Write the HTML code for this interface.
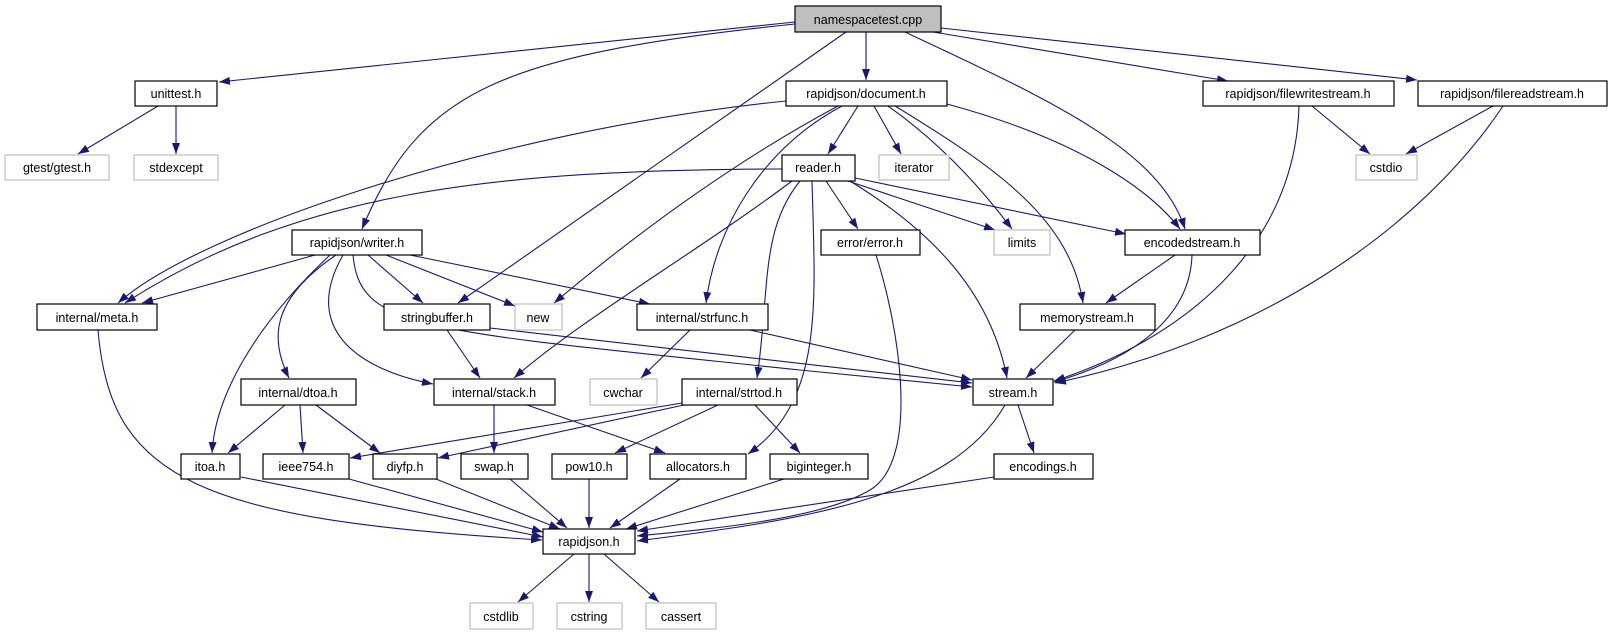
<!DOCTYPE html>
<html><head><meta charset="utf-8"><style>
html,body{margin:0;padding:0;background:#fff;}
svg{display:block;}
text{font-family:"Liberation Sans",sans-serif;font-size:12.5px;fill:#000;text-anchor:middle;}
.n{fill:#fff;stroke:#000;stroke-width:1.2;}
.g{fill:#fff;stroke:#bfbfbf;stroke-width:1.2;}
.e{fill:none;stroke:#191970;stroke-width:1.1;marker-end:url(#a);}
</style></head><body>
<svg width="1613" height="635" viewBox="0 0 1613 635" xmlns="http://www.w3.org/2000/svg">
<defs><marker id="a" markerUnits="userSpaceOnUse" markerWidth="11" markerHeight="8" refX="11" refY="4" orient="auto"><path d="M0,0 L11,4 L0,8 z" fill="#191970"/></marker></defs>
<g>
<path class="e" d="M795,22 L219,82"/>
<path class="e" d="M795,24 C500,55 420,90 362,229"/>
<path class="e" d="M846,32 L458,303"/>
<path class="e" d="M866,32 L866,80"/>
<path class="e" d="M905,32 C1050,100 1160,150 1185,229"/>
<path class="e" d="M933,32 L1228,81"/>
<path class="e" d="M941,28 L1417,80"/>
<path class="e" d="M158,106 L78,154"/>
<path class="e" d="M176,106 L176,154"/>
<path class="e" d="M786,101 C500,130 200,230 118,303"/>
<path class="e" d="M838,106 Q700,180 554,303"/>
<path class="e" d="M842,106 C760,150 715,230 706,303"/>
<path class="e" d="M858,106 L828,154"/>
<path class="e" d="M874,106 L901,154"/>
<path class="e" d="M888,106 C950,150 990,200 1012,229"/>
<path class="e" d="M895,106 C1000,170 1070,220 1083,303"/>
<path class="e" d="M947,104 C1080,140 1150,190 1180,229"/>
<path class="e" d="M782,169 C500,170 300,190 125,303"/>
<path class="e" d="M792,181 C700,250 580,320 514,378"/>
<path class="e" d="M800,181 C760,230 770,290 757,378"/>
<path class="e" d="M812,181 C815,300 825,400 748,454"/>
<path class="e" d="M826,181 L858,229"/>
<path class="e" d="M848,181 L995,230"/>
<path class="e" d="M855,178 L1126,234"/>
<path class="e" d="M850,181 C930,230 990,290 1007,378"/>
<path class="e" d="M315,255 L142,303"/>
<path class="e" d="M330,255 C250,330 215,400 212,453"/>
<path class="e" d="M336,255 C270,300 270,340 289,378"/>
<path class="e" d="M343,255 C300,330 360,370 433,384"/>
<path class="e" d="M353,255 C360,330 420,330 800,370 L972,387"/>
<path class="e" d="M368,255 L423,303"/>
<path class="e" d="M386,255 L515,306"/>
<path class="e" d="M410,255 L650,304"/>
<path class="e" d="M447,330 L480,378"/>
<path class="e" d="M490,328 L972,383"/>
<path class="e" d="M690,330 L641,378"/>
<path class="e" d="M750,330 L972,380"/>
<path class="e" d="M1175,255 L1106,303"/>
<path class="e" d="M1192,255 C1190,320 1130,360 1054,382"/>
<path class="e" d="M1075,330 L1026,378"/>
<path class="e" d="M1312,106 L1370,154"/>
<path class="e" d="M1299,106 C1295,250 1180,340 1054,381"/>
<path class="e" d="M1493,106 L1406,154"/>
<path class="e" d="M1503,106 C1420,230 1260,340 1055,383"/>
<path class="e" d="M285,405 L228,453"/>
<path class="e" d="M300,405 L303,453"/>
<path class="e" d="M316,405 L380,453"/>
<path class="e" d="M494,405 L494,453"/>
<path class="e" d="M527,405 L665,453"/>
<path class="e" d="M682,403 L350,458"/>
<path class="e" d="M684,405 L438,458"/>
<path class="e" d="M718,405 L615,453"/>
<path class="e" d="M755,405 L800,453"/>
<path class="e" d="M1018,405 L1034,453"/>
<path class="e" d="M1005,405 C950,500 800,520 637,541"/>
<path class="e" d="M876,255 C900,330 920,460 870,490 C820,520 700,530 637,536"/>
<path class="e" d="M994,477 L637,531"/>
<path class="e" d="M784,479 L626,529"/>
<path class="e" d="M680,479 L610,528"/>
<path class="e" d="M589,479 L589,528"/>
<path class="e" d="M510,479 L567,528"/>
<path class="e" d="M436,479 L560,529"/>
<path class="e" d="M349,479 L543,532"/>
<path class="e" d="M241,477 L543,537"/>
<path class="e" d="M98,330 C110,480 200,520 542,540"/>
<path class="e" d="M574,554 L518,602"/>
<path class="e" d="M589,554 L589,602"/>
<path class="e" d="M604,554 L659,602"/>
</g>
<g>
<rect x="795" y="6" width="146" height="26" fill="#bfbfbf" stroke="#000" stroke-width="1.2"/><text x="868" y="24">namespacetest.cpp</text>
<rect class="n" x="135" y="81" width="82" height="25"/><text x="176" y="98">unittest.h</text>
<rect class="g" x="5" y="155" width="104" height="25"/><text x="57" y="172">gtest/gtest.h</text>
<rect class="g" x="134" y="155" width="84" height="25"/><text x="176" y="172">stdexcept</text>
<rect class="n" x="786" y="81" width="161" height="25"/><text x="866" y="98">rapidjson/document.h</text>
<rect class="n" x="1203" y="81" width="191" height="25"/><text x="1298" y="98">rapidjson/filewritestream.h</text>
<rect class="n" x="1418" y="81" width="189" height="25"/><text x="1512" y="98">rapidjson/filereadstream.h</text>
<rect class="n" x="782" y="155" width="73" height="26"/><text x="818" y="172">reader.h</text>
<rect class="g" x="879" y="155" width="70" height="25"/><text x="914" y="172">iterator</text>
<rect class="g" x="1356" y="155" width="61" height="25"/><text x="1386" y="172">cstdio</text>
<rect class="n" x="292" y="230" width="130" height="25"/><text x="357" y="247">rapidjson/writer.h</text>
<rect class="n" x="821" y="230" width="99" height="25"/><text x="870" y="247">error/error.h</text>
<rect class="g" x="994" y="230" width="56" height="25"/><text x="1022" y="247">limits</text>
<rect class="n" x="1125" y="230" width="135" height="25"/><text x="1192" y="247">encodedstream.h</text>
<rect class="n" x="37" y="304" width="120" height="26"/><text x="97" y="322">internal/meta.h</text>
<rect class="n" x="384" y="304" width="106" height="26"/><text x="437" y="322">stringbuffer.h</text>
<rect class="g" x="515" y="304" width="47" height="26"/><text x="538" y="322">new</text>
<rect class="n" x="637" y="304" width="131" height="26"/><text x="702" y="322">internal/strfunc.h</text>
<rect class="n" x="1020" y="304" width="135" height="26"/><text x="1087" y="322">memorystream.h</text>
<rect class="n" x="241" y="379" width="115" height="26"/><text x="298" y="397">internal/dtoa.h</text>
<rect class="n" x="434" y="379" width="121" height="26"/><text x="494" y="397">internal/stack.h</text>
<rect class="g" x="590" y="379" width="67" height="26"/><text x="623" y="397">cwchar</text>
<rect class="n" x="682" y="379" width="115" height="26"/><text x="739" y="397">internal/strtod.h</text>
<rect class="n" x="973" y="379" width="80" height="26"/><text x="1013" y="397">stream.h</text>
<rect class="n" x="181" y="454" width="59" height="25"/><text x="210" y="471">itoa.h</text>
<rect class="n" x="263" y="454" width="86" height="25"/><text x="306" y="471">ieee754.h</text>
<rect class="n" x="373" y="454" width="64" height="25"/><text x="405" y="471">diyfp.h</text>
<rect class="n" x="461" y="454" width="67" height="25"/><text x="494" y="471">swap.h</text>
<rect class="n" x="552" y="454" width="75" height="25"/><text x="589" y="471">pow10.h</text>
<rect class="n" x="650" y="454" width="96" height="25"/><text x="698" y="471">allocators.h</text>
<rect class="n" x="770" y="454" width="98" height="25"/><text x="819" y="471">biginteger.h</text>
<rect class="n" x="994" y="454" width="99" height="25"/><text x="1043" y="471">encodings.h</text>
<rect class="n" x="543" y="529" width="92" height="25"/><text x="589" y="546">rapidjson.h</text>
<rect class="g" x="470" y="603" width="63" height="26"/><text x="501" y="621">cstdlib</text>
<rect class="g" x="557" y="603" width="65" height="26"/><text x="589" y="621">cstring</text>
<rect class="g" x="646" y="603" width="70" height="26"/><text x="681" y="621">cassert</text>
</g>
</svg>
</body></html>
